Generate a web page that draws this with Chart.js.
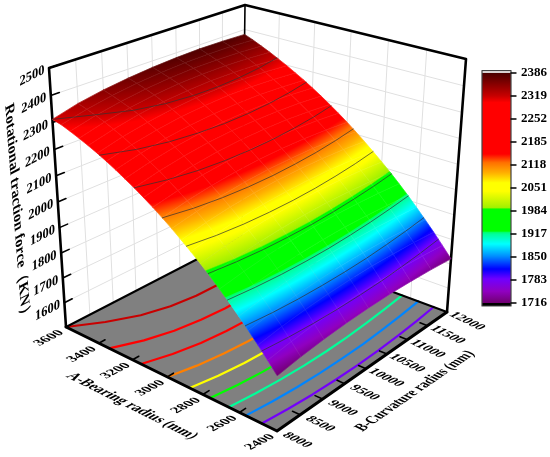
<!DOCTYPE html>
<html>
<head>
<meta charset="utf-8">
<title>Rotational traction force</title>
<script src="https://cdn.jsdelivr.net/npm/chart.js@4"></script>
<style>
  html, body { margin: 0; padding: 0; background: #fff; }
  canvas { display: block; }
</style>
</head>
<body>
<canvas id="surface" width="550" height="457"></canvas>
<script>
// values
var bearingRadius = [3600, 3550, 3500, 3450, 3400, 3350, 3300, 3250, 3200, 3150, 3100, 3050, 3000,
  2950, 2900, 2850, 2800, 2750, 2700, 2650, 2600, 2550, 2500, 2450, 2400];
var curvatureRadius = [8000, 8500, 9000, 9500, 10000, 10500, 11000, 11500, 12000];
// one row per bearing radius, one column per curvature radius
var tractionForce = [
  [2312, 2337, 2354, 2366, 2375, 2381, 2384, 2383, 2380],
  [2306, 2328, 2345, 2358, 2366, 2371, 2373, 2371, 2366],
  [2295, 2318, 2335, 2348, 2356, 2360, 2360, 2357, 2350],
  [2283, 2307, 2324, 2337, 2345, 2348, 2347, 2342, 2334],
  [2270, 2293, 2311, 2323, 2330, 2333, 2331, 2326, 2316],
  [2256, 2278, 2295, 2307, 2314, 2316, 2314, 2308, 2298],
  [2240, 2262, 2278, 2290, 2296, 2298, 2295, 2288, 2278],
  [2223, 2244, 2260, 2270, 2276, 2277, 2275, 2268, 2258],
  [2204, 2225, 2240, 2250, 2256, 2257, 2254, 2247, 2236],
  [2185, 2205, 2219, 2229, 2234, 2234, 2231, 2224, 2213],
  [2164, 2183, 2197, 2207, 2211, 2211, 2208, 2200, 2189],
  [2142, 2160, 2174, 2182, 2186, 2186, 2182, 2175, 2164],
  [2118, 2136, 2148, 2156, 2160, 2160, 2156, 2148, 2138],
  [2093, 2110, 2122, 2130, 2134, 2133, 2129, 2121, 2110],
  [2066, 2083, 2095, 2102, 2105, 2104, 2100, 2092, 2081],
  [2038, 2054, 2065, 2072, 2075, 2074, 2070, 2062, 2051],
  [2009, 2024, 2035, 2041, 2044, 2043, 2038, 2031, 2020],
  [1978, 1992, 2002, 2008, 2011, 2010, 2005, 1998, 1988],
  [1945, 1959, 1969, 1974, 1977, 1975, 1971, 1964, 1954],
  [1911, 1924, 1933, 1939, 1941, 1940, 1935, 1928, 1919],
  [1875, 1888, 1898, 1903, 1905, 1903, 1899, 1892, 1882],
  [1838, 1851, 1860, 1865, 1867, 1866, 1861, 1854, 1844],
  [1799, 1812, 1821, 1826, 1828, 1827, 1822, 1815, 1805],
  [1758, 1771, 1780, 1785, 1787, 1786, 1781, 1774, 1764],
  [1716, 1729, 1738, 1743, 1745, 1744, 1739, 1732, 1722]
];
var bearingTicks = [3600, 3400, 3200, 3000, 2800, 2600, 2400];
var curvatureTicks = [8000, 8500, 9000, 9500, 10000, 10500, 11000, 11500, 12000];
var forceTicks = [1600, 1700, 1800, 1900, 2000, 2100, 2200, 2300, 2400, 2500];
var colorbarTicks = [1716, 1783, 1850, 1917, 1984, 2051, 2118, 2185, 2252, 2319, 2386];
var contourLevels = [1783, 1850, 1917, 1984, 2051, 2118, 2185, 2252, 2319];
var colorValues = [1716, 1750, 1786, 1815, 1853, 1888, 1917, 1923, 1925, 1990, 1993, 2042, 2066, 2095, 2125, 2150, 2300, 2319, 2352, 2386];
var colorNames = ["#700070", "#9000c0", "#7000ff", "#0000ff", "#0090ff", "#00ffff", "#00ff99", "#00ff60", "#00ff00",
  "#00ff00", "#a0f000", "#ffff00", "#ffff00", "#ffb000", "#ff7000", "#ff0000", "#ff0000", "#c80000", "#8a0000", "#4a0000"];

var FLOOR = 1500, CEILING = 2500;
var SERIF = '"Liberation Serif", serif';

// box corners on the page: (3600,8000) (2400,8000) (2400,12000) (3600,12000)
var floorCorners = [[66, 327], [277, 431], [447, 312], [242, 236]];
var boxHeights = [[-17, -259], [1, -270], [19, -253], [3, -231]];

function bilinear(c, u, v, n) {
  return (1 - u) * (1 - v) * c[0][n] + u * (1 - v) * c[1][n] + u * v * c[2][n] + (1 - u) * v * c[3][n];
}

// 3d box to page position, with a little foreshortening on each axis
function project(a, b, f) {
  var u = (3600 - a) / 1200, v = (b - 8000) / 4000, t = (f - FLOOR) / (CEILING - FLOOR);
  u = u - 0.08 * u * (1 - u);
  v = (v * 1.1) / (1 + 0.1 * v);
  t = t * (1 - 0.068 * (1 - t));
  return {
    x: bilinear(floorCorners, u, v, 0) + bilinear(boxHeights, u, v, 0) * t,
    y: bilinear(floorCorners, u, v, 1) + bilinear(boxHeights, u, v, 1) * t,
  };
}

function hexToRgb(h) {
  return [parseInt(h.substr(1, 2), 16), parseInt(h.substr(3, 2), 16), parseInt(h.substr(5, 2), 16)];
}
function forceColor(f) {
  if (f <= colorValues[0]) return colorNames[0];
  for (var i = 1; i < colorValues.length; i++) {
    if (f <= colorValues[i]) {
      var k = (f - colorValues[i - 1]) / (colorValues[i] - colorValues[i - 1]);
      var p = hexToRgb(colorNames[i - 1]), q = hexToRgb(colorNames[i]);
      return "rgb(" + Math.round(p[0] + (q[0] - p[0]) * k) + "," + Math.round(p[1] + (q[1] - p[1]) * k) + "," + Math.round(p[2] + (q[2] - p[2]) * k) + ")";
    }
  }
  return colorNames[colorNames.length - 1];
}

function addColorStops(g, fromF, toF) {
  g.addColorStop(0, forceColor(fromF));
  colorValues.forEach(function (f) {
    var k = (f - fromF) / (toF - fromF);
    if (k > 0 && k < 1) g.addColorStop(k, forceColor(f));
  });
  g.addColorStop(1, forceColor(toF));
}

// gradient following the slope of one surface cell
var cellCache = {};
function cellGradient(chart, r, c) {
  if (!chart.chartArea) return "rgba(0,0,0,0)";
  var key = r + "_" + c;
  if (cellCache[key]) return cellCache[key];
  var pts = [[r, c], [r + 1, c], [r + 1, c + 1], [r, c + 1]].map(function (rc) {
    var f = tractionForce[rc[0]][rc[1]];
    var p = project(bearingRadius[rc[0]], curvatureRadius[rc[1]], f);
    return { x: p.x, y: p.y, f: f };
  });
  function mid(i, j, n) { return (pts[i][n] + pts[j][n]) / 2; }
  var dx1 = mid(1, 2, "x") - mid(0, 3, "x"), dy1 = mid(1, 2, "y") - mid(0, 3, "y"), df1 = mid(1, 2, "f") - mid(0, 3, "f");
  var dx2 = mid(2, 3, "x") - mid(0, 1, "x"), dy2 = mid(2, 3, "y") - mid(0, 1, "y"), df2 = mid(2, 3, "f") - mid(0, 1, "f");
  var det = dx1 * dy2 - dx2 * dy1;
  var gx = (df1 * dy2 - df2 * dy1) / det, gy = (dx1 * df2 - dx2 * df1) / det;
  var g2 = gx * gx + gy * gy;
  var fs = pts.map(function (p) { return p.f; });
  var lo = Math.min.apply(null, fs) - 3, hi = Math.max.apply(null, fs) + 3;
  var cx = (pts[0].x + pts[1].x + pts[2].x + pts[3].x) / 4, cy = (pts[0].y + pts[1].y + pts[2].y + pts[3].y) / 4;
  var cf = (fs[0] + fs[1] + fs[2] + fs[3]) / 4;
  var g = chart.ctx.createLinearGradient(
    cx + (gx * (lo - cf)) / g2, cy + (gy * (lo - cf)) / g2,
    cx + (gx * (hi - cf)) / g2, cy + (gy * (hi - cf)) / g2
  );
  addColorStops(g, lo, hi);
  cellCache[key] = g;
  return g;
}

// where a contour level crosses each curvature column, found from the table
function contourPoints(level, onFloor) {
  var out = [];
  curvatureRadius.forEach(function (b, c) {
    if (tractionForce[0][c] < level) {
      // level is above this column, clip the contour at the box edge
      out.push(project(bearingRadius[0], b, onFloor ? FLOOR : tractionForce[0][c]));
      return;
    }
    for (var r = 0; r < bearingRadius.length - 1; r++) {
      var f0 = tractionForce[r][c], f1 = tractionForce[r + 1][c];
      if (f0 >= level && f1 < level) {
        var a = bearingRadius[r] + ((f0 - level) / (f0 - f1)) * (bearingRadius[r + 1] - bearingRadius[r]);
        out.push(project(a, b, onFloor ? FLOOR : level));
        break;
      }
    }
  });
  return out;
}

function line(points, color, width, extra) {
  return Object.assign({
    type: "scatter",
    data: points,
    showLine: true,
    tension: 0,
    fill: false,
    borderColor: color,
    borderWidth: width,
    pointRadius: 0,
    pointHoverRadius: 0,
    borderCapStyle: "round",
    borderJoinStyle: "round",
  }, extra || {});
}
function shape(points, color, strokeColor, width) {
  return line(points, strokeColor, width, { fill: "shape", backgroundColor: color });
}

var A0 = bearingRadius[0], A1 = bearingRadius[bearingRadius.length - 1];
var B0 = curvatureRadius[0], B1 = curvatureRadius[curvatureRadius.length - 1];
var layers = [];

// walls
forceTicks.forEach(function (f) {
  layers.push(line([project(A0, B0, f), project(A0, B1, f), project(A1, B1, f)], "#e0e0e0", 1));
});
curvatureTicks.slice(1, -1).forEach(function (b) {
  layers.push(line([project(A0, b, FLOOR), project(A0, b, CEILING)], "#e0e0e0", 1));
});
bearingTicks.slice(1, -1).forEach(function (a) {
  layers.push(line([project(a, B1, FLOOR), project(a, B1, CEILING)], "#e0e0e0", 1));
});

// floor and its contours
layers.push(shape([project(A0, B0, FLOOR), project(A1, B0, FLOOR), project(A1, B1, FLOOR), project(A0, B1, FLOOR)], "#808080", "#808080", 0));
contourLevels.forEach(function (level) {
  layers.push(line(contourPoints(level, true), forceColor(level), 2.2));
});

// box frame
layers.push(line([project(A0, B0, FLOOR), project(A0, B0, CEILING), project(A0, B1, CEILING), project(A1, B1, CEILING), project(A1, B1, FLOOR)], "#000", 2.6));
layers.push(line([project(A0, B1, FLOOR), project(A0, B1, CEILING)], "#000", 1.6));
layers.push(line([project(A0, B0, FLOOR), project(A0, B1, FLOOR), project(A1, B1, FLOOR)], "#000", 2));
layers.push(line([project(A0, B0, FLOOR), project(A1, B0, FLOOR), project(A1, B1, FLOOR)], "#000", 3));

// ticks
forceTicks.forEach(function (f) {
  layers.push(line([project(A0, B0, f), project(A0, B0 + 160, f)], "#000", 1.6));
});
bearingTicks.slice(1, -1).forEach(function (a) {
  layers.push(line([project(a, B0, FLOOR), project(a, B0 + 130, FLOOR)], "#000", 1.6));
});
curvatureTicks.slice(1, -1).forEach(function (b) {
  layers.push(line([project(A1, b, FLOOR), project(A1 + 40, b, FLOOR)], "#000", 1.6));
});

// surface, far row first
tractionForce.slice(0, -1).forEach(function (row, r) {
  row.slice(0, -1).forEach(function (v, c) {
    var ds = shape([
      project(bearingRadius[r], curvatureRadius[c], tractionForce[r][c]),
      project(bearingRadius[r], curvatureRadius[c + 1], tractionForce[r][c + 1]),
      project(bearingRadius[r + 1], curvatureRadius[c + 1], tractionForce[r + 1][c + 1]),
      project(bearingRadius[r + 1], curvatureRadius[c], tractionForce[r + 1][c]),
      project(bearingRadius[r], curvatureRadius[c], tractionForce[r][c]),
    ], function (ctx) { return cellGradient(ctx.chart, r, c); }, function (ctx) { return cellGradient(ctx.chart, r, c); }, 0.7);
    layers.push(ds);
  });
});
// faint mesh over the surface
tractionForce.forEach(function (row, r) {
  layers.push(line(row.map(function (f, c) { return project(bearingRadius[r], curvatureRadius[c], f); }), "rgba(255,255,255,0.1)", 0.6));
});
curvatureRadius.forEach(function (b, c) {
  layers.push(line(tractionForce.map(function (row, r) { return project(bearingRadius[r], b, row[c]); }), "rgba(255,255,255,0.1)", 0.6));
});
contourLevels.forEach(function (level) {
  layers.push(line(contourPoints(level, false), "rgba(50,50,50,0.7)", 1));
});

// colour bar
var BAR_L = 482, BAR_R = 511;
function barY(f) {
  return 303 - ((f - colorbarTicks[0]) * 230) / (colorbarTicks[colorbarTicks.length - 1] - colorbarTicks[0]);
}
function barRect(y0, y1) {
  return [{ x: BAR_L, y: y0 }, { x: BAR_R, y: y0 }, { x: BAR_R, y: y1 }, { x: BAR_L, y: y1 }, { x: BAR_L, y: y0 }];
}
var barMin = colorbarTicks[0], barMax = colorbarTicks[colorbarTicks.length - 1];
layers.push(shape(barRect(barY(barMax) - 2.5, barY(barMax)), "#d8d2d2", "#d8d2d2", 0));
layers.push(shape(barRect(barY(barMin), barY(barMin) + 3), "#000", "#000", 0));
layers.push(shape(barRect(barY(barMax), barY(barMin)), function (ctx) {
  if (!ctx.chart.chartArea) return "rgba(0,0,0,0)";
  var g = ctx.chart.ctx.createLinearGradient(0, barY(barMin), 0, barY(barMax));
  addColorStops(g, barMin, barMax);
  return g;
}, "rgba(0,0,0,0)", 0));
layers.push(line(barRect(barY(barMax) - 2.5, barY(barMin) + 3), "#444", 1.2));
colorbarTicks.forEach(function (f) {
  layers.push(line([{ x: BAR_R, y: barY(f) }, { x: BAR_R + 5, y: barY(f) }], "#000", 1.4));
});

// text lies in the planes of the box, so it gets a baseline and a "down" direction
function putText(ctx, text, x, y, base, down, font, align) {
  ctx.save();
  ctx.transform(base[0], base[1], down[0], down[1], x, y);
  ctx.font = font;
  ctx.fillStyle = "#000";
  ctx.textAlign = align || "center";
  ctx.textBaseline = "middle";
  ctx.fillText(text, 0, 0);
  ctx.restore();
}

var boxLabels = {
  id: "boxLabels",
  afterDraw: function (chart) {
    var ctx = chart.ctx, font = "bold 14px " + SERIF, titleFont = "bold 15px " + SERIF;
    forceTicks.forEach(function (f) {
      var p = project(A0, B0, f);
      putText(ctx, String(f), p.x - 17, p.y + 8, [0.89, -0.46], [0, 1], font);
    });
    bearingTicks.forEach(function (a) {
      var p = project(a, B0, FLOOR);
      putText(ctx, String(a), p.x - 17, p.y + 11, [0.89, -0.46], [0.85, 0.42], font);
    });
    curvatureTicks.forEach(function (b) {
      var p = project(A1, b, FLOOR);
      putText(ctx, String(b), p.x + 20, p.y + 9, [0.89, 0.44], [-0.85, 0.44], font);
    });
    colorbarTicks.forEach(function (f) {
      putText(ctx, String(f), 521, barY(f), [1, 0], [0, 1], "bold 13px " + SERIF, "left");
    });
    putText(ctx, "Rotational traction force（KN）", 17, 213, [0.08, 1.03], [-0.89, 0.46], titleFont);
    putText(ctx, "A-Bearing radius (mm)", 132, 406, [0.84, 0.42], [-0.95, 0.5], titleFont);
    putText(ctx, "B-Curvature radius (mm)", 415, 391, [0.68, -0.47], [0.95, 0.47], titleFont);
  },
};

new Chart(document.getElementById("surface"), {
  type: "scatter",
  data: { datasets: layers.reverse() }, // chart.js paints the last dataset first
  options: {
    responsive: false,
    animation: false,
    events: [],
    layout: { padding: 0 },
    clip: false,
    plugins: { legend: { display: false }, tooltip: { enabled: false } },
    scales: {
      x: { type: "linear", min: 0, max: 550, display: false },
      y: { type: "linear", min: 0, max: 457, reverse: true, display: false },
    },
  },
  plugins: [boxLabels],
});
</script>
</body>
</html>
